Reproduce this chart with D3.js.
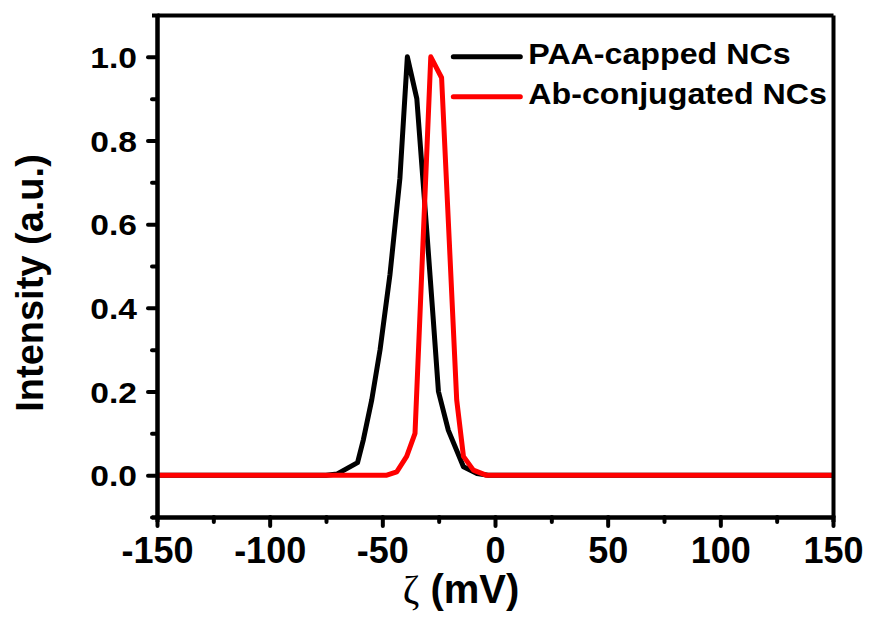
<!DOCTYPE html>
<html>
<head>
<meta charset="utf-8">
<script src="https://cdn.jsdelivr.net/npm/d3@7"></script>
<style>
	body { margin: 0; background: #fff; }
	text { font-family: 'Liberation Sans', Arial, sans-serif; font-weight: bold; fill: #000; }
</style>
</head>
<body>
<div id="wrapper"></div>
<script>
// zeta potential distributions: [mV, intensity]
const paaCapped = [
	[ -150, 0 ], [ -75, 0 ], [ -70, 0.003 ], [ -61, 0.03 ], [ -58.4, 0.085 ], [ -54.7, 0.18 ],
	[ -51, 0.3 ], [ -46.6, 0.48 ], [ -42.2, 0.71 ], [ -38.9, 1.0 ], [ -34.7, 0.9 ], [ -30.5, 0.6 ],
	[ -27.5, 0.38 ], [ -25.1, 0.2 ], [ -20.7, 0.107 ], [ -14, 0.02 ], [ -8, 0.004 ], [ -3, 0 ], [ 150, 0 ]
];
const abConjugated = [
	[ -150, 0 ], [ -48, 0 ], [ -43.6, 0.008 ], [ -39.2, 0.045 ], [ -35.5, 0.1 ], [ -32, 0.55 ],
	[ -28.5, 1.0 ], [ -23.7, 0.95 ], [ -20.3, 0.56 ], [ -17, 0.18 ], [ -14, 0.045 ], [ -9.6, 0.012 ],
	[ -4, 0 ], [ 150, 0 ]
];
const seriesNames = [ 'PAA-capped NCs', 'Ab-conjugated NCs' ];
const seriesColors = [ '#000000', '#ff0000' ];
const xTicks = [ -150, -100, -50, 0, 50, 100, 150 ];
const xMinorTicks = [ -125, -75, -25, 25, 75, 125 ];
const yTicks = [ 0, 0.2, 0.4, 0.6, 0.8, 1.0 ];
const yMinorTicks = [ -0.1, 0.1, 0.3, 0.5, 0.7, 0.9 ];

const dimensions = {
	width: 869,
	height: 621,
	margin: { top: 15, right: 36, bottom: 104, left: 157 }
};
dimensions.boundedWidth = dimensions.width - dimensions.margin.left - dimensions.margin.right;
dimensions.boundedHeight = dimensions.height - dimensions.margin.top - dimensions.margin.bottom;

function drawZetaChart() {
	const x = d3.scaleLinear().domain([ -150, 150 ]).range([ 0, dimensions.boundedWidth ]);
	const y = d3.scaleLinear().domain([ -0.1, 1.1 ]).range([ dimensions.boundedHeight, 0 ]);

	const svg = d3.select('#wrapper').append('svg').attr('width', dimensions.width).attr('height', dimensions.height);
	const bounds = svg
		.append('g')
		.attr('transform', `translate(${dimensions.margin.left}, ${dimensions.margin.top})`);

	// curves first, frame on top
	const line = d3.line().x((d) => x(d[0])).y((d) => y(d[1]));
	[ paaCapped, abConjugated ].forEach((data, i) => {
		bounds
			.append('path')
			.datum(data)
			.attr('fill', 'none')
			.attr('stroke', seriesColors[i])
			.attr('stroke-width', 5)
			.attr('stroke-linejoin', 'round')
			.attr('d', line);
	});

	const styleAxis = (g) => {
		g.select('.domain').attr('stroke', '#000').attr('stroke-width', 4);
		g.selectAll('.tick line').attr('stroke', '#000').attr('stroke-width', 4).attr('stroke-linecap', 'round');
	};

	// minor ticks
	bounds
		.append('g')
		.attr('transform', `translate(0, ${dimensions.boundedHeight})`)
		.call(d3.axisBottom(x).tickValues(xMinorTicks).tickSize(5).tickFormat(''))
		.call(styleAxis);
	bounds
		.append('g')
		.call(d3.axisLeft(y).tickValues(yMinorTicks).tickSize(5).tickFormat(''))
		.call(styleAxis);

	// top and right edges of the frame
	bounds.append('g').call(d3.axisTop(x).tickValues([]).tickSizeOuter(0)).call(styleAxis);
	bounds
		.append('g')
		.attr('transform', `translate(${dimensions.boundedWidth}, 0)`)
		.call(d3.axisRight(y).tickValues([]).tickSizeOuter(0))
		.call(styleAxis);

	const xAxis = bounds
		.append('g')
		.attr('transform', `translate(0, ${dimensions.boundedHeight})`)
		.call(d3.axisBottom(x).tickValues(xTicks).tickSize(9).tickSizeOuter(0).tickFormat((d) => String(d)))
		.call(styleAxis);
	xAxis.selectAll('.tick text').attr('y', 46).attr('dy', null).style('font-size', '36px');

	const yAxis = bounds
		.append('g')
		.call(d3.axisLeft(y).tickValues(yTicks).tickSize(9).tickSizeOuter(0).tickFormat(d3.format('.1f')))
		.call(styleAxis);
	yAxis
		.selectAll('.tick text')
		.attr('x', null)
		.attr('dy', '0.36em')
		.attr('transform', 'translate(-20, 0) scale(1.12, 1)')
		.style('font-size', '30px');

	const xLabel = svg
		.append('text')
		.attr('x', 461)
		.attr('y', 603)
		.attr('text-anchor', 'middle')
		.style('font-size', '40px');
	xLabel.append('tspan').style('font-family', "'Liberation Serif', serif").style('font-weight', 'normal').text('ζ');
	xLabel.append('tspan').text(' (mV)');

	svg
		.append('text')
		.attr('transform', `translate(43, 283) rotate(-90)`)
		.attr('text-anchor', 'middle')
		.style('font-size', '38px')
		.text('Intensity (a.u.)');

	// legend
	const legend = bounds.append('g').attr('transform', `translate(${x(-18.5)}, ${y(1.0)})`);
	seriesNames.forEach((name, i) => {
		const row = legend.append('g').attr('transform', `translate(0, ${i * 40})`);
		row
			.append('line')
			.attr('x1', 0)
			.attr('x2', 67)
			.attr('stroke', seriesColors[i])
			.attr('stroke-width', 5)
			.attr('stroke-linecap', 'round');
		row
			.append('text')
			.attr('y', 7.5)
			.attr('transform', 'translate(75, 0) scale(1.11, 1)')
			.style('font-size', '29px')
			.text(name);
	});
}
drawZetaChart();
</script>
</body>
</html>
